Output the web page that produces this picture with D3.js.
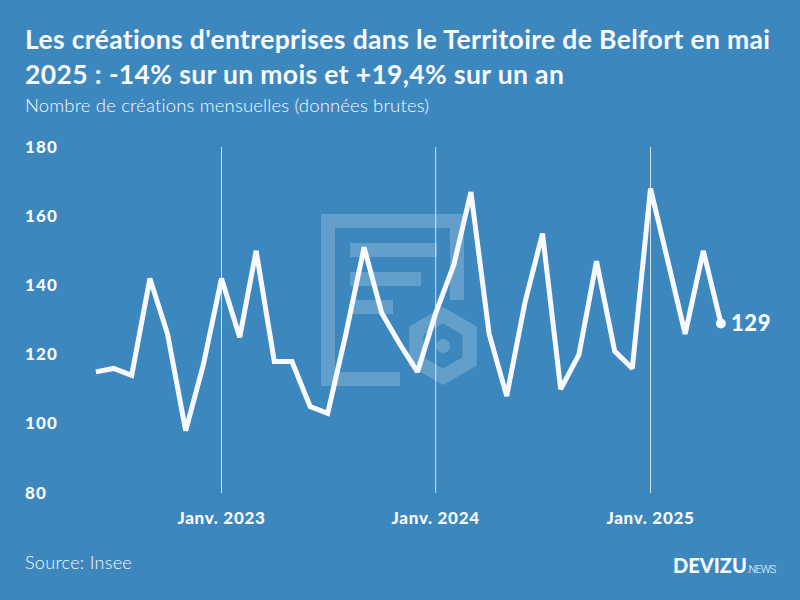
<!DOCTYPE html>
<html>
<head>
<meta charset="utf-8">
<script src="https://cdn.jsdelivr.net/npm/d3@7"></script>
<style>
  html, body { margin: 0; padding: 0; background: #3d87bf; }
  svg { display: block; font-family: Lato, sans-serif; }
</style>
</head>
<body>
<svg id="chart" width="800" height="600"></svg>
<script>
const titleLines = [
    "Les créations d'entreprises dans le Territoire de Belfort en mai",
    "2025 : -14% sur un mois et +19,4% sur un an"
];
const subtitle = "Nombre de créations mensuelles (données brutes)";
const source = "Source: Insee";

const startMonth = "2022-06";
const values = [
    115, 116, 114, 142, 126, 98, 117,
    142, 125, 150, 118, 118, 105, 103, 126, 151, 132, 123, 115,
    132, 146, 167, 126, 108, 135, 155, 110, 120, 147, 121, 116,
    168, 146, 126, 150, 129
];
const yTicks = [80, 100, 120, 140, 160, 180];
const xTicks = ["2023-01", "2024-01", "2025-01"];
const xTickLabels = ["Janv. 2023", "Janv. 2024", "Janv. 2025"];

const white = "#f8f9ff";
const parseMonth = d3.utcParse("%Y-%m");
const months = d3.utcMonth.range(parseMonth(startMonth), d3.utcMonth.offset(parseMonth(startMonth), values.length));
const data = months.map((m, i) => ({ date: m, value: values[i] }));

const svg = d3.select("#chart");

const x = d3.scaleUtc()
    .domain([parseMonth("2023-01"), parseMonth("2025-01")])
    .range([221.5, 650.5]);
const y = d3.scaleLinear()
    .domain([80, 180])
    .range([493, 147]);

// logo en filigrane
const logo = svg.append("g").attr("fill", "#fff").attr("fill-opacity", 0.2);
logo.append("path")
    .attr("fill-rule", "evenodd")
    .attr("d", "M321,214H464V300H450V228H335V372H400V386H321Z"
        + "M350,243H437V257H350Z M350,272H421V286H350Z M350,300H393V314H350Z");
const hexPoints = (cx, cy, r) => d3.range(6).map(i => {
    const a = Math.PI / 3 * i - Math.PI / 2;
    return [cx + r * Math.cos(a), cy + r * Math.sin(a)];
});
logo.append("path")
    .attr("fill-rule", "evenodd")
    .attr("d", "M" + hexPoints(443, 346, 39).join("L") + "Z M" + hexPoints(443, 346, 22.5).join("L") + "Z");
logo.append("circle").attr("cx", 443).attr("cy", 346).attr("r", 7);

// titres
svg.selectAll(".title")
    .data(titleLines)
    .join("text")
    .attr("class", "title")
    .attr("x", 25)
    .attr("y", (d, i) => 49 + i * 35)
    .attr("fill", white)
    .style("font-size", "26.5px")
    .style("font-weight", 700)
    .style("letter-spacing", "0.35px")
    .text(d => d);

svg.append("text")
    .attr("x", 25)
    .attr("y", 112)
    .attr("fill", white)
    .style("font-size", "18.5px")
    .style("font-weight", 300)
    .style("letter-spacing", "0.15px")
    .text(subtitle);

// axes
const xAxis = svg.append("g");
xAxis.selectAll("line")
    .data(xTicks)
    .join("line")
    .attr("x1", d => x(parseMonth(d)))
    .attr("x2", d => x(parseMonth(d)))
    .attr("y1", y(180))
    .attr("y2", y(80))
    .attr("stroke", "#fff")
    .attr("stroke-opacity", 0.75)
    .attr("stroke-width", 1);
xAxis.selectAll("text")
    .data(xTicks)
    .join("text")
    .attr("x", d => x(parseMonth(d)))
    .attr("y", 524)
    .attr("text-anchor", "middle")
    .attr("fill", white)
    .style("font-size", "17px")
    .style("font-weight", 900)
    .style("letter-spacing", "0.7px")
    .text((d, i) => xTickLabels[i]);

svg.append("g")
    .selectAll("text")
    .data(yTicks)
    .join("text")
    .attr("x", 25)
    .attr("y", d => y(d) + 5.5)
    .attr("fill", white)
    .style("font-size", "17px")
    .style("font-weight", 900)
    .style("letter-spacing", "1.2px")
    .text(d => d);

// courbe
const line = d3.line()
    .x(d => x(d.date))
    .y(d => y(d.value));

svg.append("path")
    .datum(data)
    .attr("d", line)
    .attr("fill", "none")
    .attr("stroke", white)
    .attr("stroke-width", 5)
    .attr("stroke-linejoin", "miter")
    .attr("stroke-miterlimit", 2);

const last = data[data.length - 1];
svg.append("circle")
    .attr("cx", x(last.date))
    .attr("cy", y(last.value))
    .attr("r", 5)
    .attr("fill", white);
svg.append("text")
    .attr("x", x(last.date) + 10)
    .attr("y", y(last.value) + 8)
    .attr("fill", white)
    .style("font-size", "22px")
    .style("font-weight", 900)
    .style("letter-spacing", "0.6px")
    .text(last.value);

// pied
svg.append("text")
    .attr("x", 25)
    .attr("y", 569)
    .attr("fill", white)
    .style("font-size", "18px")
    .style("font-weight", 300)
    .style("letter-spacing", "0.3px")
    .text(source);

const brand = svg.append("text")
    .attr("x", 673)
    .attr("y", 573)
    .attr("fill", white);
brand.append("tspan")
    .style("font-size", "20px")
    .style("font-weight", 900)
    .text("DEVIZU");
brand.append("tspan")
    .style("font-family", "Roboto, sans-serif")
    .style("font-size", "11px")
    .style("font-weight", 300)
    .style("letter-spacing", "-0.9px")
    .text(".NEWS");
</script>
</body>
</html>
